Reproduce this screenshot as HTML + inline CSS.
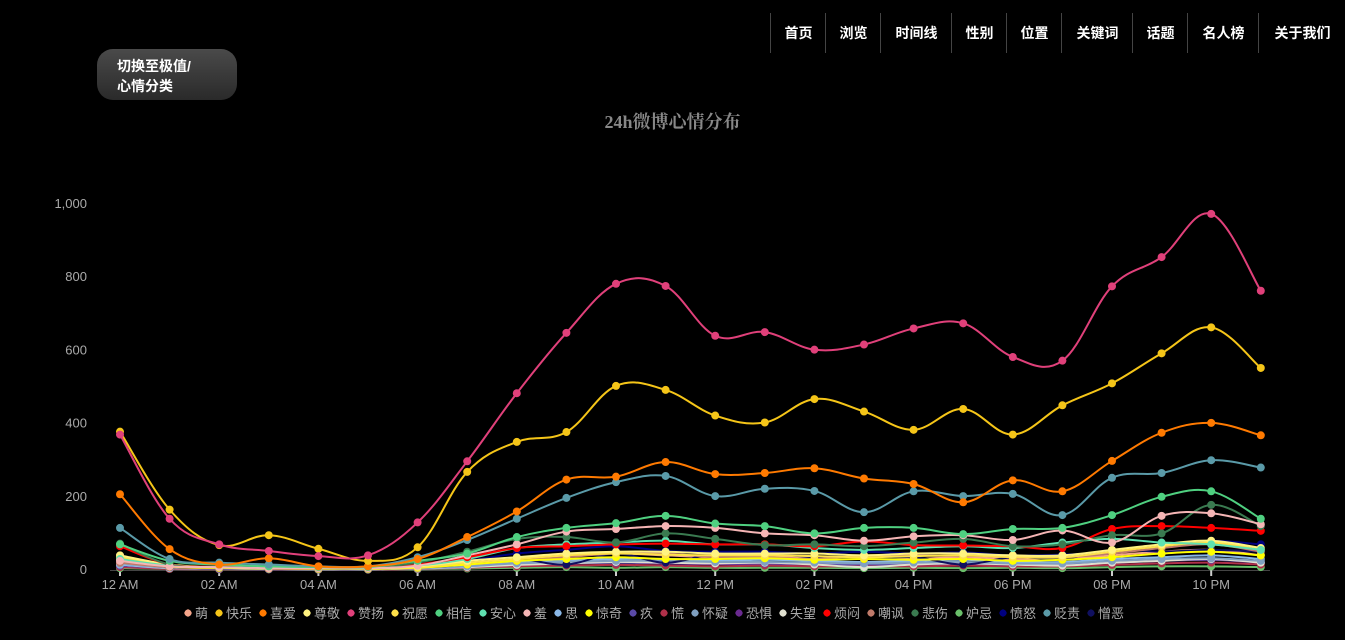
<!DOCTYPE html>
<html><head><meta charset="utf-8">
<style>
body{margin:0;width:1345px;height:640px;background:#000;overflow:hidden;font-family:"Liberation Sans","Noto Sans CJK SC",sans-serif;position:relative}
.nav{position:absolute;top:13px;height:40px;border-left:1px solid #444;color:#fff;font-size:14px;line-height:40px;text-align:center;font-weight:bold}
.btn{position:absolute;left:97px;top:49px;width:140px;height:51px;border-radius:16px;background:linear-gradient(#4a4a4a,#2a2a2a);color:#fff;font-size:14px;font-weight:bold;box-sizing:border-box;padding:7px 0 0 20px;line-height:20px}
.title{position:absolute;top:108px;left:0;width:1345px;text-align:center;color:#888;font-family:"Liberation Serif","Noto Serif CJK SC",serif;font-weight:bold;font-size:18px}
svg{position:absolute;left:0;top:0}
</style></head><body>
<div class="nav" style="left:770px;width:55px">首页</div>
<div class="nav" style="left:825px;width:55px">浏览</div>
<div class="nav" style="left:880px;width:71px">时间线</div>
<div class="nav" style="left:951px;width:55px">性别</div>
<div class="nav" style="left:1006px;width:55px">位置</div>
<div class="nav" style="left:1061px;width:71px">关键词</div>
<div class="nav" style="left:1132px;width:55px">话题</div>
<div class="nav" style="left:1187px;width:71px">名人榜</div>
<div class="nav" style="left:1258px;width:87px">关于我们</div>
<div class="btn">切换至极值/<br>心情分类</div>
<div class="title">24h微博心情分布</div>
<svg id="chart" width="1345" height="640"></svg>
<script>
const hours=["12 AM","","02 AM","","04 AM","","06 AM","","08 AM","","10 AM","","12 PM","","02 PM","","04 PM","","06 PM","","08 PM","","10 PM",""];
const yTicks=[0,200,400,600,800,1000];
const names=["萌","快乐","喜爱","尊敬","赞扬","祝愿","相信","安心","羞","思","惊奇","疚","慌","怀疑","恐惧","失望","烦闷","嘲讽","悲伤","妒忌","愤怒","贬责","憎恶"];
const colors=["#f5a58a","#f5c518","#ff7a00","#fff380","#e0407a","#ffe14a","#4fd080","#5fe0b0","#f5b5b5","#8ab8e8","#ffff00","#5a4aa8","#b0304a","#80a0c0","#6a2a90","#e0e0d0","#ff0000","#c07a6a","#3a7a50","#6ac06a","#000080","#5a9aa8","#101060"];
const s0=[20,8,5,4,3,3,6,15,30,40,45,40,35,35,35,30,30,35,30,30,40,50,55,40];
const s1=[378,165,68,95,58,25,62,268,350,377,503,492,422,403,467,433,383,440,370,450,510,592,663,552];
const s2=[207,57,15,32,10,10,30,90,160,247,255,295,262,265,278,250,235,185,245,215,298,375,402,368];
const s3=[40,15,8,5,4,4,10,25,35,45,50,50,45,45,45,40,45,45,40,40,55,70,80,60];
const s4=[370,140,70,52,38,40,130,297,483,648,782,776,640,650,602,616,660,674,582,572,775,855,973,763];
const s5=[35,12,8,5,4,4,8,20,30,40,45,42,40,40,38,35,38,40,35,35,50,65,75,55];
const s6=[70,25,15,10,8,8,25,45,90,115,128,148,127,120,100,115,115,98,112,115,150,200,215,140];
const s7=[30,12,8,6,5,5,12,30,60,70,75,80,70,70,60,55,60,65,60,75,85,75,70,55];
const s8=[25,10,8,5,5,5,12,40,70,105,112,120,115,100,95,80,92,95,82,108,75,148,155,125];
const s9=[15,6,4,3,2,2,5,10,20,25,30,30,25,28,25,22,25,28,22,22,30,35,40,30];
const s10=[30,10,6,4,3,3,6,15,25,30,35,30,30,32,28,30,28,30,25,28,35,45,50,40];
const s11=[12,5,3,2,2,2,4,8,15,18,20,20,18,18,16,15,16,18,15,15,20,25,28,22];
const s12=[8,3,2,2,1,1,3,6,10,12,14,12,10,12,10,10,10,12,10,10,14,18,20,15];
const s13=[18,6,4,3,2,2,5,10,18,22,25,25,22,22,20,18,20,22,18,18,25,30,32,25];
const s14=[10,4,3,2,2,2,3,8,14,18,20,18,16,16,15,14,15,16,14,14,20,25,28,20];
const s15=[15,5,4,3,2,2,4,8,14,18,22,20,18,20,15,8,15,18,15,12,20,25,30,20];
const s16=[65,15,10,5,5,5,15,35,60,65,70,72,70,70,65,78,68,67,65,60,112,120,115,107];
const s17=[20,8,5,4,3,3,6,15,25,35,45,45,35,35,30,40,40,38,40,35,45,60,70,50];
const s18=[72,15,10,10,5,5,20,50,85,90,75,100,85,68,70,65,75,85,65,70,95,100,178,120];
const s19=[5,3,2,2,1,1,2,4,6,8,6,8,6,6,6,5,6,5,6,5,8,10,10,8];
const s20=[40,10,5,4,3,3,10,25,45,55,65,52,50,50,45,50,45,48,40,42,50,70,80,70];
const s21=[115,30,20,15,10,10,35,82,140,197,240,257,202,222,216,158,215,202,208,150,252,265,300,280];
const s22=[25,8,5,4,3,3,6,15,30,15,45,20,45,45,35,30,35,15,35,30,55,50,55,50];
const series=[s0,s1,s2,s3,s4,s5,s6,s7,s8,s9,s10,s11,s12,s13,s14,s15,s16,s17,s18,s19,s20,s21,s22];
const NS="http://www.w3.org/2000/svg";
const svg=document.getElementById('chart');
const X=i=>120+i*49.6, Y=v=>570-v*0.366;
function mk(t,a,p){const e=document.createElementNS(NS,t);for(const k in a)e.setAttribute(k,a[k]);(p||svg).appendChild(e);return e;}
yTicks.forEach(t=>{const tx=mk('text',{x:87,y:Y(t)+4,'text-anchor':'end',fill:'#aaa','font-size':13});tx.textContent=t.toLocaleString('en-US');

});
mk('line',{x1:110,x2:1270,y1:570.5,y2:570.5,stroke:'#444'});
hours.forEach((h,i)=>{if(!h)return;const l=mk('line',{x1:X(i),x2:X(i),y1:570,y2:576,stroke:'#ccc','stroke-width':2});
const tx=mk('text',{x:X(i),y:589,'text-anchor':'middle',fill:'#aaa','font-size':13});tx.textContent=h;

});
function path(pts){let d=`M${pts[0][0]},${pts[0][1]}`;for(let i=0;i<pts.length-1;i++){const p0=pts[i-1]||pts[i],p1=pts[i],p2=pts[i+1],p3=pts[i+2]||p2;const t=0.18;
d+=` C${p1[0]+(p2[0]-p0[0])*t},${p1[1]+(p2[1]-p0[1])*t} ${p2[0]-(p3[0]-p1[0])*t},${p2[1]-(p3[1]-p1[1])*t} ${p2[0]},${p2[1]}`;}return d;}
const order=[19,14,12,11,15,9,13,0,22,20,17,10,5,3,7,16,18,8,6,21,2,1,4];
order.forEach(k=>{const g=mk('g',{});


const pts=series[k].map((v,i)=>[X(i),Y(v)]);
mk('path',{d:path(pts),fill:'none',stroke:colors[k],'stroke-width':2},g);
pts.forEach(p=>{const c=mk('circle',{cx:p[0],cy:p[1],r:4,fill:colors[k]},g);

});});
// legend
const lg=mk('g',{});


let lx=188;
names.forEach((n,k)=>{const e=mk('g',{},lg);


mk('path',{d:`M${lx-4},613 L${lx},609 L${lx+4},613 L${lx},617Z`,fill:colors[k]},e);
mk('circle',{cx:lx,cy:613,r:3.5,fill:colors[k]},e);
const t=mk('text',{x:lx+7,y:618,fill:'#aaa','font-size':13},e);t.textContent=n;
lx+=7+n.length*13+11;});
</script>
</body></html>
